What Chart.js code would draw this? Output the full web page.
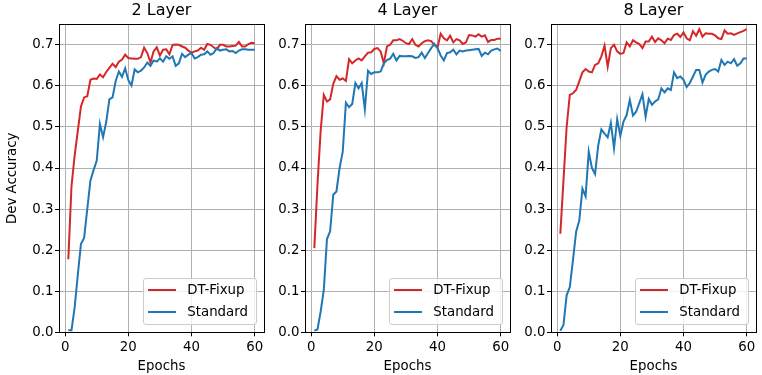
<!DOCTYPE html>
<html><head><meta charset="utf-8">
<script src="https://cdn.jsdelivr.net/npm/chart.js@4"></script>
<style>
html,body{margin:0;padding:0;background:#fff;}
#wrap{position:relative;width:762px;height:375px;overflow:hidden;background:#fff;}
canvas{position:absolute;left:0;top:0;}
.legend{position:absolute;box-sizing:border-box;width:114px;height:47px;border:1px solid #cccccc;border-radius:3px;background:rgba(255,255,255,0.8);font-family:"DejaVu Sans";font-size:13.33px;color:#000;}
.legend .h{position:absolute;left:4px;width:28px;height:2px;}
.legend .t{position:absolute;left:43px;line-height:16px;white-space:nowrap;}
</style></head>
<body>
<div id="wrap">
<canvas id="c1" width="762" height="375"></canvas>
<canvas id="c2" width="762" height="375"></canvas>
<canvas id="c3" width="762" height="375"></canvas>
</div>
<script>
const epochs = [1,2,3,4,5,6,7,8,9,10,11,12,13,14,15,16,17,18,19,20,21,22,23,24,25,26,27,28,29,30,31,32,33,34,35,36,37,38,39,40,41,42,43,44,45,46,47,48,49,50,51,52,53,54,55,56,57,58,59,60];
const seriesNames = ["DT-Fixup", "Standard"];
const panelTitles = ["2 Layer", "4 Layer", "8 Layer"];
const xTicks = [0, 20, 40, 60];
const yTicks = [0.0, 0.1, 0.2, 0.3, 0.4, 0.5, 0.6, 0.7];

const fixup2 = [0.178,0.355,0.43,0.49,0.55,0.572,0.575,0.615,0.618,0.617,0.628,0.621,0.634,0.644,0.654,0.646,0.659,0.664,0.676,0.668,0.667,0.666,0.666,0.67,0.693,0.68,0.657,0.684,0.694,0.674,0.688,0.689,0.677,0.70,0.701,0.70,0.696,0.693,0.686,0.681,0.684,0.686,0.693,0.688,0.702,0.70,0.694,0.689,0.70,0.70,0.696,0.696,0.697,0.698,0.707,0.696,0.696,0.702,0.705,0.704];
const standard2 = [0.005,0.005,0.06,0.14,0.215,0.23,0.30,0.37,0.395,0.418,0.507,0.475,0.512,0.567,0.572,0.612,0.635,0.622,0.643,0.614,0.601,0.64,0.633,0.637,0.645,0.657,0.649,0.662,0.659,0.667,0.659,0.672,0.666,0.672,0.649,0.655,0.678,0.67,0.676,0.68,0.667,0.67,0.676,0.677,0.684,0.676,0.68,0.692,0.686,0.688,0.689,0.684,0.685,0.68,0.686,0.689,0.689,0.688,0.688,0.688];

const fixup4 = [0.205,0.36,0.49,0.578,0.562,0.567,0.605,0.624,0.615,0.618,0.612,0.665,0.655,0.662,0.667,0.662,0.672,0.681,0.682,0.69,0.692,0.684,0.655,0.696,0.70,0.711,0.711,0.714,0.71,0.704,0.702,0.714,0.70,0.696,0.704,0.709,0.711,0.709,0.70,0.693,0.727,0.716,0.711,0.722,0.706,0.714,0.711,0.702,0.706,0.724,0.723,0.72,0.726,0.72,0.723,0.707,0.712,0.712,0.715,0.715];
const standard4 = [0.004,0.007,0.05,0.103,0.227,0.246,0.335,0.343,0.40,0.44,0.559,0.548,0.556,0.607,0.594,0.607,0.543,0.637,0.629,0.633,0.633,0.635,0.655,0.663,0.666,0.678,0.662,0.673,0.672,0.672,0.673,0.672,0.668,0.670,0.681,0.668,0.68,0.692,0.702,0.692,0.674,0.662,0.68,0.682,0.688,0.677,0.686,0.684,0.686,0.687,0.688,0.689,0.69,0.673,0.681,0.677,0.686,0.689,0.691,0.685];

const fixup8 = [0.24,0.37,0.5,0.578,0.582,0.59,0.611,0.633,0.641,0.635,0.633,0.651,0.655,0.672,0.698,0.647,0.692,0.70,0.684,0.678,0.68,0.706,0.696,0.711,0.706,0.702,0.692,0.708,0.708,0.72,0.707,0.716,0.711,0.704,0.715,0.712,0.724,0.727,0.719,0.73,0.716,0.711,0.733,0.722,0.738,0.72,0.728,0.727,0.727,0.723,0.716,0.714,0.735,0.727,0.728,0.724,0.728,0.731,0.734,0.738];
const standard8 = [0.004,0.018,0.09,0.11,0.175,0.245,0.272,0.35,0.331,0.44,0.40,0.385,0.455,0.494,0.484,0.475,0.51,0.448,0.519,0.478,0.513,0.529,0.566,0.528,0.537,0.558,0.58,0.525,0.568,0.554,0.562,0.567,0.594,0.584,0.594,0.59,0.633,0.619,0.623,0.615,0.597,0.607,0.623,0.639,0.639,0.608,0.627,0.635,0.639,0.641,0.635,0.663,0.651,0.659,0.655,0.665,0.649,0.655,0.667,0.667];

const RED = '#d62728', BLUE = '#1f77b4';
const FONT = 'DejaVu Sans';
Chart.defaults.font.family = FONT;
Chart.defaults.font.size = 13.33;
Chart.defaults.color = '#000';

const framePlugin = {
  id: 'frame',
  afterDatasetsDraw(chart) {
    const a = chart.chartArea, ctx = chart.ctx;
    ctx.save();
    ctx.strokeStyle = '#000';
    ctx.lineWidth = 1;
    ctx.strokeRect(Math.round(a.left) + 0.5, Math.round(a.top) + 0.5, Math.round(a.right) - Math.round(a.left), Math.round(a.bottom) - Math.round(a.top));
    ctx.restore();
  }
};

function makeChart(id, title, redData, blueData, padLeft, padRight, yWidth, showYTitle) {
  const pts = arr => epochs.map((e, i) => ({x: e, y: arr[i]}));
  const chart = new Chart(document.getElementById(id), {
    type: 'line',
    data: {
      datasets: [
        {label: seriesNames[0], data: pts(redData), borderColor: RED, backgroundColor: RED, borderWidth: 2, pointRadius: 0, tension: 0, order: 1},
        {label: seriesNames[1], data: pts(blueData), borderColor: BLUE, backgroundColor: BLUE, borderWidth: 2, pointRadius: 0, tension: 0, order: 0}
      ]
    },
    options: {
      responsive: false,
      animation: false,
      devicePixelRatio: 1,
      layout: {padding: {left: padLeft, right: padRight, top: 0, bottom: 0}},
      plugins: {
        legend: {display: false},
        tooltip: {enabled: false},
        title: {display: true, text: title, fullSize: false, color: '#000',
          font: {family: FONT, size: 16, weight: 'normal'}, padding: {top: 1.6, bottom: 3.5}}
      },
      scales: {
        x: {
          type: 'linear', min: -1.95, max: 62.95,
          afterBuildTicks: ax => { ax.ticks = xTicks.map(v => ({value: v})); },
          afterFit: s => { s.height = 42.7; },
          ticks: {color: '#000', padding: 3, maxRotation: 0, autoSkip: false, font: {family: FONT, size: 13.33}, callback: v => String(v)},
          grid: {color: '#b0b0b0', lineWidth: 1, tickColor: '#000', tickLength: 4, tickWidth: 1},
          border: {display: true, color: '#000', width: 1},
          title: {display: true, text: 'Epochs', color: '#000', font: {family: FONT, size: 13.33}, padding: {top: 0, bottom: 0.5}}
        },
        y: {
          type: 'linear', min: 0, max: 0.75,
          afterBuildTicks: ax => { ax.ticks = yTicks.map(v => ({value: v})); },
          afterFit: s => { s.width = yWidth; },
          ticks: {color: '#000', padding: 1.5, font: {family: FONT, size: 13.33}, callback: v => Number(v).toFixed(1)},
          grid: {color: '#b0b0b0', lineWidth: 1, tickColor: '#000', tickLength: 4, tickWidth: 1},
          border: {display: true, color: '#000', width: 1},
          title: {display: showYTitle, text: 'Dev Accuracy', color: '#000', font: {family: FONT, size: 13.33}, padding: {top: 5, bottom: 0}}
        }
      }
    },
    plugins: [framePlugin]
  });
  // legend box (lower right inside axes)
  const a = chart.chartArea;
  const lg = document.createElement('div');
  lg.className = 'legend';
  lg.style.left = (a.right - 6.7 - 114) + 'px';
  lg.style.top = (a.bottom - 7 - 47) + 'px';
  const rows = [[seriesNames[0], RED, 11.7], [seriesNames[1], BLUE, 33.4]];
  rows.forEach(([name, col, cy]) => {
    const h = document.createElement('div');
    h.className = 'h';
    h.style.background = col;
    h.style.top = (cy - 1 - 1) + 'px';
    lg.appendChild(h);
    const t = document.createElement('div');
    t.className = 't';
    t.style.top = (cy - 8 - 1) + 'px';
    t.textContent = name;
    lg.appendChild(t);
  });
  document.getElementById('wrap').appendChild(lg);
  return chart;
}

makeChart('c1', panelTitles[0], fixup2, standard2, 0, 498, 59, true);
makeChart('c2', panelTitles[1], fixup4, standard4, 265, 252, 40, false);
makeChart('c3', panelTitles[2], fixup8, standard8, 511, 6, 40, false);
</script>
</body></html>
